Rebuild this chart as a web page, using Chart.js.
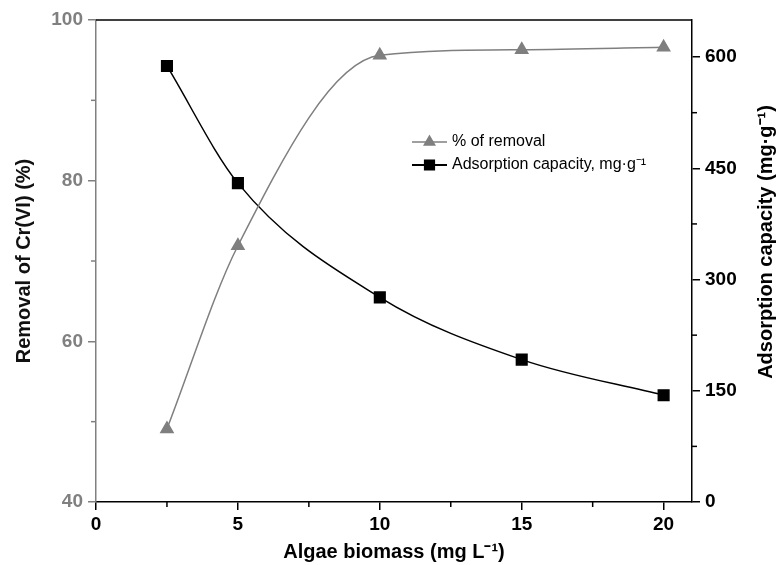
<!DOCTYPE html>
<html>
<head>
<meta charset="utf-8">
<script src="https://cdn.jsdelivr.net/npm/chart.js@4"></script>
<style>
html, body { margin: 0; padding: 0; background: #fff; }
</style>
</head>
<body>
<canvas id="myChart" width="776" height="565"></canvas>
<script>
// data
const biomass = [2.5, 5, 10, 15, 20];
const removal = [49.1, 71.9, 95.6, 96.3, 96.6];
const capacity = [588, 430, 276, 192, 144];

const xTicks = [0, 5, 10, 15, 20];
const leftTicks = [40, 60, 80, 100];
const rightTicks = [0, 150, 300, 450, 600];

const FONT = "'Liberation Sans', Arial, sans-serif";

function midpoints(arr, max) {
	let out = [];
	for (let i = 0; i < arr.length; i++) {
		let step = i < arr.length - 1 ? arr[i + 1] - arr[i] : arr[i] - arr[i - 1];
		let m = arr[i] + step / 2;
		if (m <= max) out.push(m);
	}
	return out;
}

// short minor ticks, top frame line and the right axis title
const frame = {
	id: 'frame',
	afterDraw(chart) {
		const ctx = chart.ctx;
		const a = chart.chartArea;
		ctx.save();
		ctx.lineWidth = 1.5;
		ctx.strokeStyle = '#000';
		ctx.beginPath();
		ctx.moveTo(a.left, a.top);
		ctx.lineTo(a.right, a.top);
		ctx.stroke();

		const sx = chart.scales.x, sy = chart.scales.y, sy1 = chart.scales.y1;
		midpoints(xTicks, sx.max).forEach(v => {
			let p = sx.getPixelForValue(v);
			ctx.beginPath(); ctx.moveTo(p, a.bottom); ctx.lineTo(p, a.bottom + 5); ctx.stroke();
		});
		ctx.strokeStyle = '#808080';
		midpoints(leftTicks, sy.max).forEach(v => {
			let p = sy.getPixelForValue(v);
			ctx.beginPath(); ctx.moveTo(a.left, p); ctx.lineTo(a.left - 5, p); ctx.stroke();
		});
		ctx.strokeStyle = '#000';
		midpoints(rightTicks, sy1.max).forEach(v => {
			let p = sy1.getPixelForValue(v);
			ctx.beginPath(); ctx.moveTo(a.right, p); ctx.lineTo(a.right + 5, p); ctx.stroke();
		});

		// right title reads bottom to top like the left one
		ctx.translate(766, 242);
		ctx.rotate(-Math.PI / 2);
		ctx.fillStyle = '#000';
		ctx.font = "bold 20px " + FONT;
		ctx.textAlign = 'center';
		ctx.textBaseline = 'middle';
		ctx.fillText('Adsorption capacity (mg·g⁻¹)', 0, 0);
		ctx.restore();
	}
};

// legend drawn inside the plot
const legendBox = {
	id: 'legendBox',
	afterDraw(chart) {
		const ctx = chart.ctx;
		ctx.save();
		chart.data.datasets.forEach((ds, i) => {
			let x0 = 412, y = 142 + i * 23;
			ctx.strokeStyle = ds.borderColor;
			ctx.fillStyle = ds.backgroundColor;
			ctx.lineWidth = i == 0 ? 1.5 : 2;
			ctx.beginPath();
			ctx.moveTo(x0, y);
			ctx.lineTo(x0 + 35, y);
			ctx.stroke();
			Chart.helpers.drawPoint(ctx, { pointStyle: ds.pointStyle, radius: ds.pointRadius - 1, borderWidth: 1, rotation: 0 }, x0 + 17.5, y);
			ctx.fillStyle = '#000';
			ctx.font = "16px " + FONT;
			ctx.textBaseline = 'middle';
			ctx.fillText(ds.label, x0 + 40, y);
		});
		ctx.restore();
	}
};

var ctx = document.getElementById("myChart").getContext('2d');
var myChart = new Chart(ctx, {
	type: 'line',
	data: {
		datasets: [{
			label: '% of removal',
			data: biomass.map((x, i) => ({ x: x, y: removal[i] })),
			borderColor: '#7f7f7f',
			backgroundColor: '#7f7f7f',
			pointStyle: 'triangle',
			pointRadius: 7,
			borderWidth: 1.5,
			cubicInterpolationMode: 'monotone',
			yAxisID: 'y'
		}, {
			label: 'Adsorption capacity, mg·g⁻¹',
			data: biomass.map((x, i) => ({ x: x, y: capacity[i] })),
			borderColor: '#000',
			backgroundColor: '#000',
			pointStyle: 'rect',
			pointRadius: 7.5,
			borderWidth: 1.5,
			cubicInterpolationMode: 'monotone',
			yAxisID: 'y1'
		}]
	},
	options: {
		responsive: false,
		animation: false,
		devicePixelRatio: 1,
		layout: { padding: { top: 20, left: 0, right: 0, bottom: 0 } },
		plugins: {
			legend: { display: false },
			tooltip: { enabled: false }
		},
		scales: {
			x: {
				type: 'linear',
				min: 0,
				max: 21,
				afterBuildTicks: s => { s.ticks = xTicks.map(v => ({ value: v })); },
				afterFit: s => { s.height = 63; },
				border: { display: true, color: '#000', width: 1.5 },
				grid: { drawOnChartArea: false, tickLength: 8, color: '#000', lineWidth: 1.5 },
				ticks: { color: '#000', padding: 3, font: { family: FONT, size: 19, weight: 'bold' } },
				title: {
					display: true,
					text: 'Algae biomass (mg L⁻¹)',
					color: '#000',
					padding: { top: 0, bottom: 1 },
					font: { family: FONT, size: 20, weight: 'bold' }
				}
			},
			y: {
				position: 'left',
				min: 40,
				max: 100,
				afterBuildTicks: s => { s.ticks = leftTicks.map(v => ({ value: v })); },
				afterFit: s => { s.width = 96; },
				border: { display: true, color: '#808080', width: 1.5 },
				grid: { drawOnChartArea: false, tickLength: 8, color: '#808080', lineWidth: 1.5 },
				ticks: { color: '#808080', padding: 5, font: { family: FONT, size: 19, weight: 'bold' } },
				title: {
					display: true,
					text: 'Removal of Cr(VI) (%)',
					color: '#111',
					padding: { top: 12, bottom: 0 },
					font: { family: FONT, size: 20, weight: 'bold' }
				}
			},
			y1: {
				position: 'right',
				min: 0,
				max: 650,
				afterBuildTicks: s => { s.ticks = rightTicks.map(v => ({ value: v })); },
				afterFit: s => { s.width = 84; },
				border: { display: true, color: '#000', width: 1.5 },
				grid: { drawOnChartArea: false, tickLength: 8, color: '#000', lineWidth: 1.5 },
				ticks: { color: '#000', padding: 5, font: { family: FONT, size: 19, weight: 'bold' } },
				title: { display: false }
			}
		}
	},
	plugins: [frame, legendBox]
});
</script>
</body>
</html>
